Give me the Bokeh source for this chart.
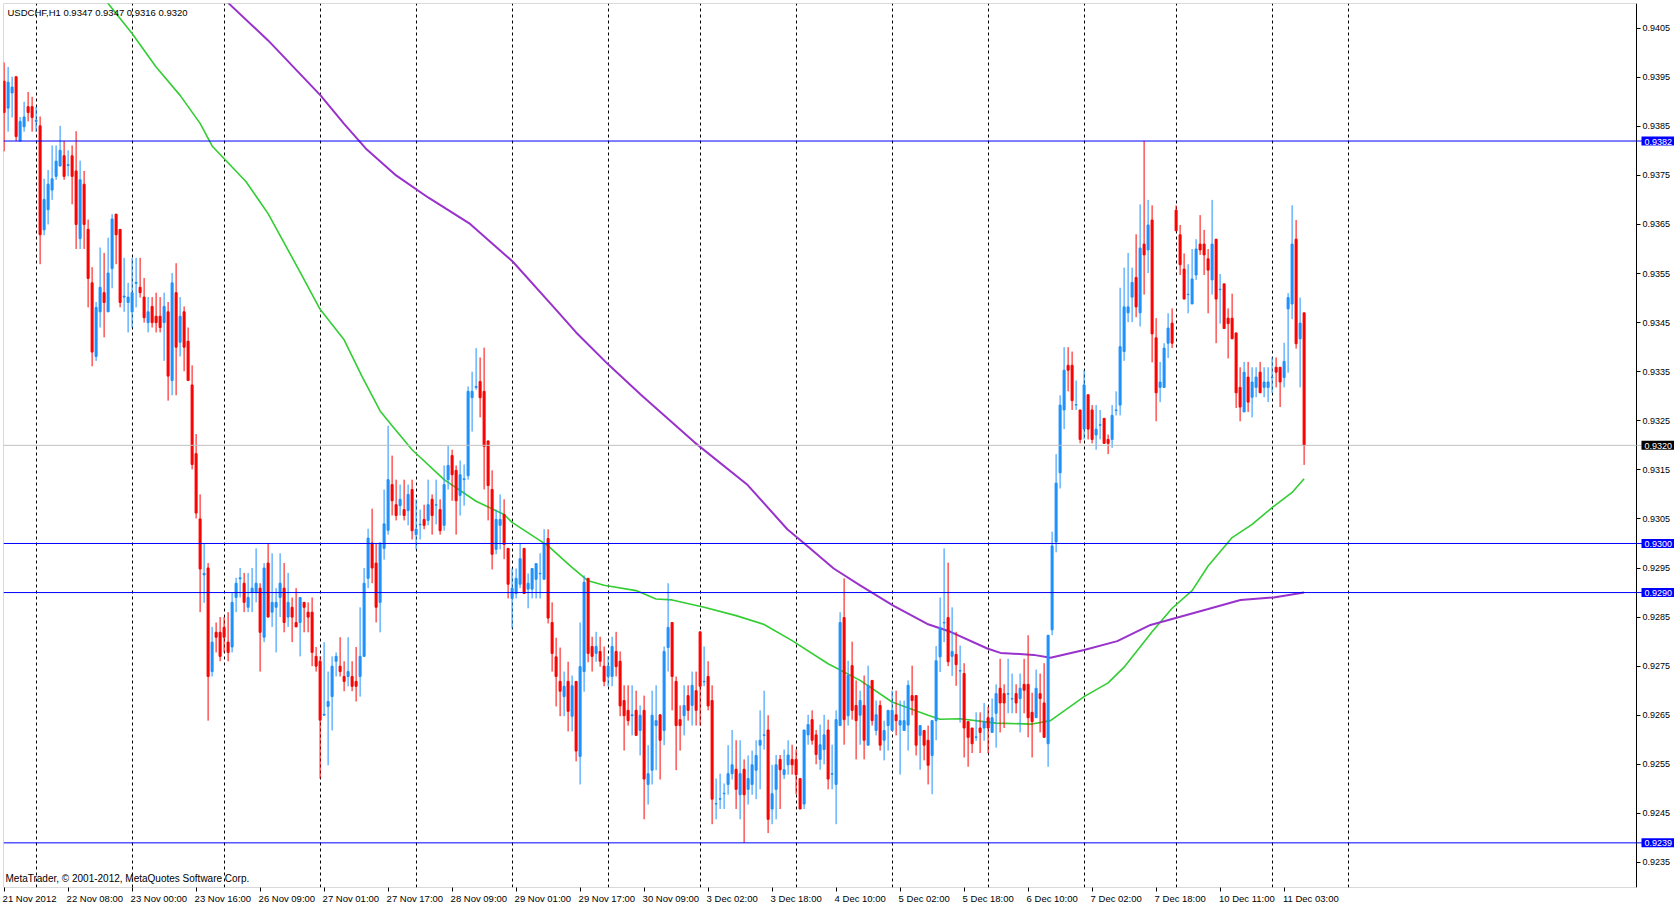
from bokeh.plotting import figure
from bokeh.models import (Range1d, LinearAxis, FixedTicker, PrintfTickFormatter,
                          CustomJSTickFormatter, Span, Label, ColumnDataSource, Grid, BoxAnnotation)
from bokeh.embed import file_html
from bokeh.resources import INLINE

# ---- data: USDCHF H1, values in units of 0.0001 above 0.9000 ----
open_p = [394.2,388.7,391.8,395.1,382.0,384.9,389.0,389.0,386.0,385.1,363.9,368.0,372.0,374.8,376.9,379.0,377.0,379.0,375.9,362.1,
          373.2,364.0,353.1,338.1,347.2,351.1,347.2,356.0,367.1,364.0,350.2,349.1,347.2,353.0,352.2,350.2,345.0,348.3,346.3,346.3,
          345.0,347.2,333.2,351.1,341.0,347.2,341.2,332.3,318.3,305.0,293.6,295.0,273.9,281.9,281.9,282.9,279.9,278.9,289.0,292.8,
          291.9,287.0,290.0,290.0,290.9,280.9,296.0,286.0,287.0,289.0,290.9,285.0,287.0,283.9,283.9,288.0,286.0,286.0,277.0,276.0,
          265.0,266.8,268.8,276.0,275.0,272.9,272.9,272.9,271.9,272.9,277.0,292.9,300.1,296.0,288.0,299.0,302.7,312.0,307.9,307.7,
          306.9,306.7,311.0,301.8,303.8,304.9,304.7,309.0,307.8,306.9,303.7,313.0,317.9,314.9,309.8,313.0,313.8,329.7,331.8,333.0,
          331.0,320.9,311.0,298.8,303.7,305.9,299.0,288.8,289.8,291.7,299.0,290.7,290.7,292.7,293.8,292.7,301.0,283.9,276.9,271.9,
          268.8,271.9,264.8,271.9,256.6,273.9,292.9,279.0,277.6,278.0,275.0,272.9,272.9,278.0,276.0,268.0,266.0,264.9,266.0,261.9,
          266.0,250.9,253.8,262.9,265.1,261.9,278.8,283.9,271.9,264.1,264.9,269.0,267.0,270.0,282.0,271.8,272.9,268.0,246.9,247.9,
          249.0,250.9,253.1,254.0,248.8,254.0,249.9,250.9,253.8,258.9,260.9,262.0,245.9,249.9,256.0,252.9,254.9,256.0,256.0,252.1,
          246.9,261.0,264.1,261.0,256.0,258.0,262.0,253.0,250.9,262.9,284.9,264.9,275.1,267.0,265.0,267.0,258.9,272.1,261.9,267.0,
          259.9,262.9,261.9,265.1,263.0,261.9,263.0,269.0,269.0,260.9,261.9,259.9,256.8,263.9,276.9,283.8,284.9,277.0,277.4,274.0,
          273.5,263.7,262.4,260.5,262.4,262.4,264.5,261.5,265.4,270.5,269.4,269.3,268.3,269.4,268.4,271.3,271.3,265.6,264.5,269.4,
          267.5,259.2,282.4,300.3,314.4,327.2,336.3,336.3,328.2,327.2,323.3,330.3,327.2,322.1,324.1,325.5,321.2,321.2,327.1,328.2,
          339.1,347.0,350.2,354.2,347.0,361.0,359.8,365.9,341.9,331.8,331.8,340.8,344.9,367.9,362.9,355.9,350.7,348.8,354.7,361.0,
          361.0,358.0,353.7,362.0,351.7,352.9,345.9,345.9,342.9,331.8,326.8,333.9,329.8,331.8,334.9,331.8,331.8,333.8,335.9,335.9,
          333.8,347.8,348.8,362.0,341.7,347.0]
high_p = [398.0,397.1,395.1,395.1,386.9,390.0,392.0,391.0,389.0,387.0,374.3,376.1,381.1,381.1,385.1,382.0,380.1,381.1,384.0,378.0,
          375.9,366.0,356.3,349.2,360.3,359.2,362.3,367.1,367.1,364.0,358.2,353.1,358.2,358.2,358.2,354.1,350.2,350.2,351.1,350.2,
          351.1,349.2,355.1,357.1,350.2,348.3,344.0,336.3,322.3,310.0,300.1,296.0,283.0,283.9,285.0,285.0,286.0,290.0,293.0,295.0,
          294.0,294.0,295.0,299.0,291.9,296.0,300.1,298.0,290.9,298.0,296.0,294.0,289.0,290.9,289.0,288.0,288.0,289.0,278.9,277.0,
          279.9,273.9,277.0,277.8,280.9,276.0,280.9,276.0,278.9,287.0,295.0,303.0,307.1,300.1,300.1,311.0,324.0,317.9,313.0,312.0,
          313.0,312.0,313.0,309.0,306.9,307.9,313.0,310.0,313.0,309.0,315.9,319.9,319.1,315.9,316.9,316.1,332.0,335.0,339.8,337.9,
          339.9,320.9,314.9,306.9,310.0,309.0,299.0,294.9,294.9,300.0,299.0,293.9,294.9,295.9,298.0,302.9,302.9,288.0,280.8,278.8,
          273.9,275.9,273.1,271.9,283.9,293.5,292.9,281.0,282.0,281.0,279.0,277.0,281.0,282.0,278.0,271.1,271.1,271.1,270.0,267.0,
          269.0,258.9,270.0,271.1,265.1,279.0,291.9,283.9,272.9,267.0,271.1,271.1,273.9,273.9,282.0,279.0,276.0,271.1,252.1,253.1,
          251.1,258.9,262.0,259.9,259.9,256.0,256.8,257.8,259.9,266.0,270.0,265.0,254.9,256.9,256.9,258.0,259.9,259.0,258.0,252.1,
          262.0,265.1,266.0,262.0,263.1,265.1,264.1,259.0,266.0,286.0,292.9,276.1,280.0,272.1,270.0,273.1,275.1,272.1,268.0,268.0,
          263.9,266.0,270.0,270.0,268.0,268.0,272.1,275.1,269.0,262.9,261.9,262.9,263.9,279.1,289.0,299.0,296.1,287.0,282.0,279.2,
          275.6,263.7,262.4,265.6,265.6,267.5,266.7,268.4,271.3,276.5,271.3,276.5,273.5,271.3,273.5,276.5,281.3,269.6,274.3,273.5,
          275.6,281.3,302.4,318.2,330.2,340.0,340.0,339.1,333.2,327.2,335.3,330.3,328.2,328.2,327.2,325.5,322.2,328.2,331.0,352.1,
          356.2,359.2,356.2,363.0,369.1,382.0,370.0,368.9,345.9,337.0,340.8,346.9,347.9,368.9,364.9,359.1,356.9,360.0,362.0,366.9,
          363.9,360.0,370.0,362.0,354.9,352.9,347.9,350.9,342.9,335.9,337.0,337.0,335.9,335.9,337.0,335.9,335.9,337.9,337.9,335.9,
          340.9,351.0,368.9,365.9,350.1,347.0]
low_p = [379.9,383.9,386.8,382.0,382.0,383.9,386.0,383.9,383.9,356.9,362.8,365.0,370.0,374.1,376.9,374.1,374.8,369.1,360.0,360.0,
         360.0,348.1,336.1,337.2,344.0,342.0,347.2,352.0,356.9,348.1,347.2,343.0,344.0,348.1,350.1,345.0,343.0,344.0,343.0,343.0,
         337.2,329.1,330.2,330.2,338.1,335.1,333.2,315.1,305.1,286.0,287.9,263.9,272.9,277.8,276.0,277.8,276.0,277.8,286.0,289.0,
         286.0,286.0,286.0,288.0,273.9,279.9,285.0,283.0,277.8,285.0,281.9,283.0,279.9,283.0,277.0,281.9,281.9,275.0,273.9,252.1,
         265.0,254.8,261.9,272.9,272.9,269.9,270.9,269.9,267.8,268.8,277.0,290.9,291.9,283.9,281.9,296.7,301.8,305.7,304.7,305.7,
         304.7,303.7,300.8,298.8,300.8,302.9,303.7,301.8,303.9,301.8,302.6,311.0,308.7,301.8,305.7,307.7,313.0,322.8,331.3,325.7,
         311.0,304.7,294.7,297.8,298.8,296.8,288.8,282.7,288.8,290.9,289.8,286.8,288.8,288.8,288.8,292.7,283.7,273.9,266.8,264.8,
         264.8,261.7,261.7,255.6,250.9,269.8,275.8,273.9,275.9,274.9,270.9,270.9,270.9,272.9,264.8,257.8,262.9,260.9,260.9,256.8,
         243.8,246.8,250.9,253.8,251.9,258.9,273.9,266.0,253.8,257.8,260.9,263.9,262.9,262.9,262.9,270.9,266.0,242.8,243.8,245.9,
         245.9,248.8,251.9,245.9,243.8,239.0,246.8,248.8,247.9,249.9,258.0,241.0,242.8,243.8,245.9,252.0,252.9,252.9,248.9,245.9,
         245.9,259.0,259.0,255.0,253.9,255.0,249.9,249.9,242.8,262.9,259.0,262.9,264.1,256.0,259.0,256.0,258.9,262.9,260.9,257.8,
         255.8,257.8,261.9,260.9,252.9,261.9,257.8,265.0,256.8,253.9,255.8,250.9,248.9,259.9,273.8,279.9,275.0,273.0,271.0,263.5,
         256.4,254.5,257.3,259.8,257.3,259.8,257.3,261.5,258.4,261.5,262.4,265.4,265.4,265.4,261.5,265.4,260.5,256.4,264.5,261.5,
         260.5,254.5,281.3,298.2,311.2,323.3,331.0,327.2,327.2,320.4,321.2,321.2,320.4,319.1,321.2,320.4,318.2,319.5,326.1,326.1,
         337.2,345.1,345.1,346.1,344.2,350.7,355.1,336.9,324.9,328.8,331.8,337.8,339.8,363.7,354.7,349.8,346.9,348.8,353.7,358.8,
         354.7,346.9,350.7,340.8,344.8,343.8,337.7,341.7,327.6,324.9,326.8,326.8,325.7,329.8,330.7,329.8,328.8,330.7,331.8,327.8,
         331.8,334.8,345.7,339.7,331.8,316.0]
close_p = [387.8,394.0,393.0,382.9,386.0,386.9,387.8,386.8,386.2,362.9,370.1,373.2,374.3,377.9,380.1,374.8,377.2,374.8,365.0,374.1,
           365.0,354.0,339.0,348.1,352.2,349.1,355.1,366.1,362.9,349.1,350.4,350.2,351.1,353.2,351.1,346.0,347.2,345.0,345.0,344.0,
           348.3,334.1,353.1,340.0,346.3,340.0,333.2,316.1,306.2,294.8,293.9,272.9,279.9,280.9,277.0,280.9,277.8,288.0,291.9,293.0,
           288.0,289.0,290.9,291.9,281.9,295.0,285.0,288.0,288.0,291.9,283.9,288.0,285.0,283.0,289.0,287.0,285.0,277.8,275.0,264.0,
           265.2,267.8,275.0,277.0,273.9,271.9,273.9,270.9,270.9,277.0,291.9,301.1,295.0,287.0,300.1,304.0,313.0,308.7,305.7,309.0,
           305.7,310.0,302.6,302.9,303.9,303.7,307.9,305.7,307.9,302.6,312.0,315.9,314.0,308.7,314.0,313.2,331.0,331.0,332.0,329.7,
           319.8,311.8,297.8,304.9,304.9,299.8,291.7,290.9,292.9,296.9,289.8,291.9,294.9,295.9,293.9,300.0,284.8,277.6,272.9,269.9,
           270.9,265.8,271.0,257.7,274.9,292.1,277.6,277.0,279.0,276.0,271.9,275.0,279.0,274.9,266.9,264.9,263.9,265.1,260.9,265.0,
           252.0,253.1,265.0,263.9,259.9,278.0,282.9,272.9,262.9,262.9,267.0,266.0,271.1,266.0,270.9,271.9,266.9,247.9,247.0,248.0,
           249.1,253.1,254.9,249.9,253.1,248.8,252.1,254.9,256.8,259.9,261.0,243.8,249.0,254.9,253.9,253.9,256.9,254.9,252.9,245.9,
           262.0,263.1,259.9,257.0,259.0,261.0,252.0,253.1,264.1,283.9,264.1,273.1,266.0,263.9,268.0,259.9,271.1,263.9,265.1,258.9,
           261.9,266.0,266.0,263.9,263.9,263.9,271.1,268.0,258.9,262.9,258.9,254.8,263.9,276.1,282.9,283.9,275.9,278.0,275.3,274.1,
           262.4,260.5,259.2,260.6,261.5,263.7,262.4,264.5,269.4,267.5,267.5,269.4,268.4,267.5,270.5,270.1,264.5,263.7,270.5,268.4,
           260.5,281.3,299.5,312.3,328.2,335.3,335.3,329.1,328.3,321.2,332.3,323.3,321.2,323.3,324.2,320.4,320.4,326.1,327.2,340.1,
           348.2,348.2,353.2,348.2,360.2,358.8,364.9,342.7,330.7,332.9,339.8,343.9,340.8,363.7,356.8,349.8,350.8,353.9,360.0,359.8,
           358.8,355.7,361.0,349.8,351.8,343.8,344.8,341.7,330.7,327.8,334.9,328.8,332.9,333.9,330.7,332.9,332.9,333.9,334.9,332.9,
           337.1,350.1,361.0,340.7,344.9,320.0]

# moving averages (bar index, value)
green_bars = [24, 26, 32, 38, 44, 49, 52, 60.5, 66, 74, 79, 85, 89.5, 94, 97, 102, 110, 118, 125, 127, 136, 141.6, 146, 150,
              158, 163, 167, 175, 183, 190, 197, 206, 214, 222, 231, 234, 239, 248, 257, 261.6, 270, 276, 280, 287, 292, 297,
              301, 307, 312, 317, 322, 325]
green_vals = [412.5, 410.0, 403.9, 397.1, 391.3, 385.6, 381.0, 373.7, 367.2, 355.3, 347.7, 341.5, 334.0, 327.0, 324.0, 319.1,
              313.0, 308.6, 305.9, 304.3, 299.5, 295.4, 292.4, 291.5, 290.4, 288.7, 288.5, 287.0, 285.3, 283.5, 280.2, 275.5,
              272.1, 267.7, 265.0, 264.2, 264.3, 263.4, 263.2, 263.9, 268.8, 271.6, 274.8, 282.0, 286.8, 290.4, 295.4, 301.2,
              303.9, 307.3, 310.4, 313.2]
purple_bars = [54, 56.2, 66, 79.1, 85, 90.4, 98, 106, 116.5, 127.2, 137.9, 143, 151, 159.2, 172.6, 185.9, 195.8, 200.8, 207.4,
               214.1, 222.4, 230.8, 236.6, 245.8, 249.1, 257.4, 261.6, 270, 278.3, 286.6, 300.8, 309.1, 317.4, 325]
purple_vals = [412.0, 410.0, 402.5, 391.3, 385.5, 380.5, 375.0, 370.5, 365.1, 357.4, 347.7, 343.0, 336.5, 330.3, 320.6,
               311.9, 302.9, 299.5, 294.9, 291.4, 287.3, 283.6, 282.0, 278.6, 277.7, 277.3, 276.7, 278.3, 280.1, 283.4,
               286.6, 288.5, 289.0, 290.0]

tick_bars = [0, 16, 32, 48, 64, 80, 96, 112, 128, 144, 160, 176, 192, 208, 224, 240, 256, 272, 288, 304, 320]
tick_labels = ["21 Nov 2012", "22 Nov 08:00", "23 Nov 00:00", "23 Nov 16:00", "26 Nov 09:00", "27 Nov 01:00",
               "27 Nov 17:00", "28 Nov 09:00", "29 Nov 01:00", "29 Nov 17:00", "30 Nov 09:00", "3 Dec 02:00",
               "3 Dec 18:00", "4 Dec 10:00", "5 Dec 02:00", "5 Dec 18:00", "6 Dec 10:00", "7 Dec 02:00",
               "7 Dec 18:00", "10 Dec 11:00", "11 Dec 03:00"]
day_bars = [8, 32, 55, 79, 103, 127, 151, 174, 198, 222, 246, 270, 293, 317, 336]
price_ticks = [0.9235, 0.9245, 0.9255, 0.9265, 0.9275, 0.9285, 0.9295, 0.9305, 0.9315, 0.9325,
               0.9335, 0.9345, 0.9355, 0.9365, 0.9375, 0.9385, 0.9395, 0.9405]
levels = [0.9382, 0.9300, 0.9290, 0.9239]
bid = 0.9320
title_text = "USDCHF,H1  0.9347 0.9347 0.9316 0.9320"
footer_text = "MetaTrader, \u00a9 2001-2012, MetaQuotes Software Corp."


def price(v):
    return [0.9 + x / 10000.0 for x in v]


O, H, L, C = price(open_p), price(high_p), price(low_p), price(close_p)
bars = list(range(len(O)))

UP = "#1E90FF"
DN = "#FF0000"
LEVEL = "#0000FF"

up = dict(x=[], lo=[], hi=[], top=[], bot=[])
dn = dict(x=[], lo=[], hi=[], top=[], bot=[])
for i, o, h, l, c in zip(bars, O, H, L, C):
    d = up if c >= o else dn
    d["x"].append(i)
    d["lo"].append(l)
    d["hi"].append(h)
    d["top"].append(max(o, c))
    d["bot"].append(min(o, c))

# ---- layout (page pixels: chart area from x=3 to the price scale at x=1636, y=3..889) ----
W, HGT = 1674, 906
LEFT, TOP, BOTTOM = 3, 3, 889
AXIS_X = 1636
PXB = 4.0                      # pixels per bar
X_START = -0.15
X_END = X_START + (W - LEFT) / PXB
X_AX = X_START + (AXIS_X - LEFT) / PXB
PX_PER_PRICE = 49190.0
Y_TOP = 0.9405 + (27.7 - TOP) / PX_PER_PRICE
Y_BOT = 0.9405 - (BOTTOM - 27.7) / PX_PER_PRICE

p = figure(width=W, height=HGT, x_range=Range1d(X_START, X_END), y_range=Range1d(Y_BOT, Y_TOP),
           output_backend="svg", toolbar_location=None, x_axis_location=None, y_axis_location=None,
           min_border_left=LEFT, min_border_top=TOP, min_border_right=0, min_border_bottom=HGT - BOTTOM,
           background_fill_color="white", border_fill_color="white", title=None)
p.outline_line_color = None
for g in p.grid:
    g.visible = False

p.add_layout(Grid(dimension=0, ticker=FixedTicker(ticks=day_bars), grid_line_color="black",
                  grid_line_dash="3 3", grid_line_width=1))

# horizontal lines
p.add_layout(Span(location=bid, dimension="width", line_color="#C0C0C0", line_width=1))
for lv in levels:
    p.add_layout(Span(location=lv, dimension="width", line_color=LEVEL, line_width=1))

# moving averages
p.line(x=green_bars, y=price(green_vals), line_color="#32CD32", line_width=1.6)
p.line(x=purple_bars, y=price(purple_vals), line_color="#9932CC", line_width=2)

# candles
for d, col in ((up, UP), (dn, DN)):
    src = ColumnDataSource(d)
    p.segment(x0="x", y0="lo", x1="x", y1="hi", source=src, line_color=col, line_width=1)
    p.vbar(x="x", width=0.5, top="top", bottom="bot", source=src, fill_color=col, line_color=col, line_width=1)

# chart frame (left, top, bottom edges and the price-scale line)
p.add_layout(BoxAnnotation(left=X_START, right=X_AX, top=Y_TOP, bottom=Y_BOT, fill_color=None,
                           line_color="black", line_width=1))

# right price axis, drawn at the price-scale line
ya = LinearAxis(fixed_location=X_AX, ticker=FixedTicker(ticks=price_ticks),
                formatter=PrintfTickFormatter(format="%.4f"),
                major_tick_out=4, major_tick_in=0, minor_tick_out=0, minor_tick_in=0,
                major_label_standoff=2, major_label_text_font="Liberation Sans",
                major_label_text_font_size="9px", major_label_text_color="black",
                axis_line_color="black", major_tick_line_color="black")
p.add_layout(ya, "right")

# bottom time axis: tick marks + left-aligned labels
CW = {" ": 278, ":": 278, "N": 722, "o": 556, "v": 500, "D": 722, "e": 556, "c": 500}
def text_w(s, fs):
    return fs * sum(CW.get(ch, 556) for ch in s) / 1000.0

XFS = 9.5
label_centers = [b + (text_w(t, XFS) / 2 - 1.5) / PXB for b, t in zip(tick_bars, tick_labels)]

ax_ticks = LinearAxis(ticker=FixedTicker(ticks=tick_bars), formatter=CustomJSTickFormatter(code="return ''"),
                      major_tick_out=4, major_tick_in=0, minor_tick_out=0, minor_tick_in=0,
                      major_label_standoff=0, major_label_text_font_size="1px", axis_line_color=None,
                      major_tick_line_color="black")
p.add_layout(ax_ticks, "below")
ax_lab = LinearAxis(ticker=FixedTicker(ticks=label_centers),
                    formatter=CustomJSTickFormatter(args=dict(labels=tick_labels),
                                                    code="const i = ticks.indexOf(tick); return labels[i >= 0 ? i : index];"),
                    major_tick_out=0, major_tick_in=0, minor_tick_out=0, minor_tick_in=0,
                    major_label_standoff=1, axis_line_color=None, major_tick_line_color=None,
                    major_label_text_font="Liberation Sans", major_label_text_font_size="9.5px",
                    major_label_text_color="black")
p.add_layout(ax_lab, "below")

# price boxes on the price scale (kept inside the picture)
PAD = dict(left=3, right=3, top=2, bottom=1)
for lv in levels:
    p.add_layout(Label(x=X_AX, y=lv, x_offset=5, text="%.4f" % lv, text_font="Liberation Sans",
                       text_font_size="9px", text_color="white", text_align="left", text_baseline="middle",
                       background_fill_color=LEVEL, padding=PAD))
p.add_layout(Label(x=X_AX, y=bid, x_offset=5, text="%.4f" % bid, text_font="Liberation Sans",
                   text_font_size="9px", text_color="white", text_align="left", text_baseline="middle",
                   background_fill_color="black", padding=PAD))

# texts inside the chart
p.add_layout(Label(x=X_START, y=Y_TOP, x_offset=4, y_offset=-3, text=title_text, text_font="Liberation Sans",
                   text_font_size="9.5px", text_color="black", text_align="left", text_baseline="top"))
p.add_layout(Label(x=X_START, y=Y_BOT, x_offset=2, y_offset=4, text=footer_text, text_font="Liberation Sans",
                   text_font_size="10px", text_color="black", text_align="left", text_baseline="bottom"))

open("out.html", "w").write(file_html(p, INLINE))
